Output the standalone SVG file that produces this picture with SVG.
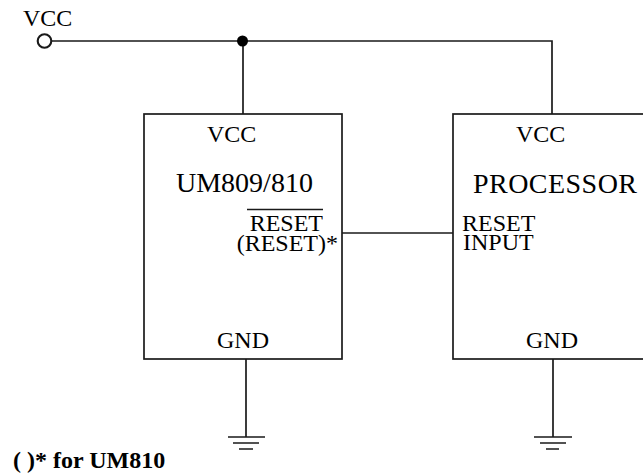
<svg xmlns="http://www.w3.org/2000/svg" width="643" height="475" viewBox="0 0 643 475">
<style>
.w{fill:none;stroke:#1a1a1a;stroke-width:1.7}
.b{fill:#fff;stroke:#1a1a1a;stroke-width:1.7}
.t{font-family:"Liberation Serif","Times New Roman",serif;font-size:24px;fill:#000}
.big{font-size:28px}
.bold{font-weight:bold}
</style>
<rect width="643" height="475" fill="#fff"/>
<g id="connectors">
<path class="w" d="M51 41H552V114"/>
<path class="w" d="M243 41V114"/>
<path class="w" d="M342 233H453"/>
<path class="w" d="M246 359V437M228 437H265M233 443H259M239 449H253"/>
<path class="w" d="M553 359V437M534 437H572M540 443H566M546 449H559"/>
<circle cx="242.5" cy="41" r="5.5" fill="#000"/>
</g>
<g id="vcc-terminal">
<circle cx="44.5" cy="41" r="6.8" fill="none" stroke="#1a1a1a" stroke-width="2.1"/>
<text class="t" x="23" y="26">VCC</text>
</g>
<g id="um809">
<rect class="b" x="144" y="114" width="198" height="245"/>
<text class="t" x="207" y="142">VCC</text>
<text class="t big" x="176" y="192">UM809/810</text>
<text class="t" x="323" y="231" text-anchor="end">RESET</text>
<path class="w" d="M247 209.5H323"/>
<text class="t" x="338" y="251" text-anchor="end">(RESET)*</text>
<text class="t" x="243" y="348" text-anchor="middle">GND</text>
</g>
<g id="processor">
<rect class="b" x="453" y="114" width="200" height="245"/>
<text class="t" x="516" y="142">VCC</text>
<text class="t big" x="473" y="193" textLength="164">PROCESSOR</text>
<text class="t" x="462" y="231">RESET</text>
<text class="t" x="463" y="250">INPUT</text>
<text class="t" x="552" y="348" text-anchor="middle">GND</text>
</g>
<g id="note">
<text class="t bold" x="13" y="468">( )* for UM810</text>
</g>
</svg>
